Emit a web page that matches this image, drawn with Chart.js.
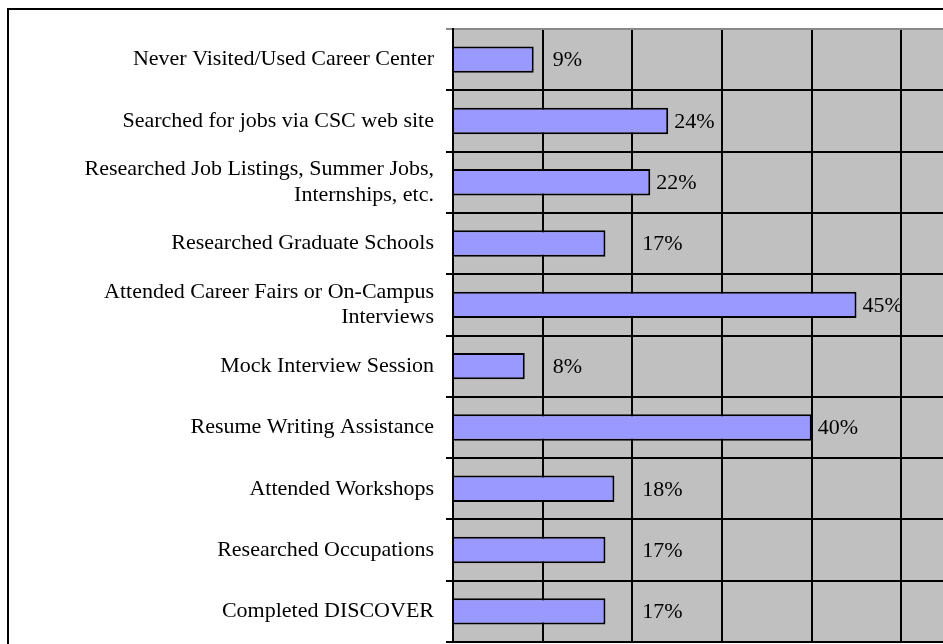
<!DOCTYPE html>
<html>
<head>
<meta charset="utf-8">
<style>
  html, body { margin: 0; padding: 0; background: #fff; overflow: hidden; }
  #wrap { position: relative; width: 943px; height: 644px; overflow: hidden; }
  canvas { position: absolute; left: 0; top: 0; }
</style>
<script src="https://cdn.jsdelivr.net/npm/chart.js@4.4.1/dist/chart.umd.min.js"></script>
</head>
<body>
<div id="wrap"><canvas id="usageChart" width="991" height="644"></canvas></div>
<script>
const categories = [
  "Never Visited/Used Career Center",
  "Searched for jobs via CSC web site",
  ["Researched Job Listings, Summer Jobs,", "Internships, etc."],
  "Researched Graduate Schools",
  ["Attended Career Fairs or On-Campus", "Interviews"],
  "Mock Interview Session",
  "Resume Writing Assistance",
  "Attended Workshops",
  "Researched Occupations",
  "Completed DISCOVER",
];
const percentages = [9, 24, 22, 17, 45, 8, 40, 18, 17, 17];
const xTicks = [0, 10, 20, 30, 40, 50, 60];

const serif = "'Liberation Serif', 'Times New Roman', serif";

// grey plot area + outer frame
const background = {
  id: "background",
  beforeDraw(chart) {
    const { ctx, chartArea } = chart;
    ctx.save();
    ctx.fillStyle = "#fff";
    ctx.fillRect(0, 0, chart.width, chart.height);
    ctx.fillStyle = "#c0c0c0";
    ctx.fillRect(chartArea.left, chartArea.top, chartArea.right - chartArea.left, chartArea.bottom - chartArea.top);
    ctx.strokeStyle = "#000";
    ctx.lineWidth = 2;
    ctx.beginPath();
    ctx.moveTo(8, chart.height + 5);
    ctx.lineTo(8, 9);
    ctx.lineTo(chart.width + 5, 9);
    ctx.stroke();
    ctx.restore();
  },
};

// value labels next to each bar, nudged past a grid line they would sit on
const valueLabels = {
  id: "valueLabels",
  afterDatasetsDraw(chart) {
    const { ctx } = chart;
    const meta = chart.getDatasetMeta(0);
    const xScale = chart.scales.x;
    const gridX = xTicks.map((v) => xScale.getPixelForValue(v));
    ctx.save();
    ctx.font = "22px " + serif;
    ctx.fillStyle = "#000";
    ctx.textAlign = "left";
    ctx.textBaseline = "middle";
    meta.data.forEach((bar, i) => {
      const text = percentages[i] + "%";
      const w = ctx.measureText(text).width;
      let x = bar.x + 6;
      const hit = gridX.find((g) => g > x - 2 && g < x + w * 0.6);
      if (hit !== undefined) x = hit + 10;
      ctx.fillText(text, x, bar.y + 1);
    });
    ctx.restore();
  },
};

const ctx = document.getElementById("usageChart");

new Chart(ctx, {
  type: "bar",
  data: {
    labels: categories,
    datasets: [
      {
        data: percentages,
        backgroundColor: "#9999ff",
        borderColor: "#000",
        borderWidth: 2,
        categoryPercentage: 1,
        barPercentage: 0.43,
      },
    ],
  },
  options: {
    indexAxis: "y",
    responsive: false,
    animation: false,
    devicePixelRatio: 1,
    layout: { padding: { top: 29, bottom: 2, left: 0, right: 0 } },
    plugins: {
      legend: { display: false },
      tooltip: { enabled: false },
    },
    scales: {
      x: {
        min: 0,
        max: 60,
        afterBuildTicks(scale) {
          scale.ticks = xTicks.map((v) => ({ value: v }));
        },
        afterFit(scale) {
          scale.height = 0;
          scale.paddingLeft = 0;
          scale.paddingRight = 0;
        },
        ticks: { display: false },
        border: { display: false },
        grid: { color: "#000", lineWidth: 2, drawTicks: false },
      },
      y: {
        afterFit(scale) {
          scale.width = 453;
          scale.paddingTop = 0;
          scale.paddingBottom = 0;
        },
        border: { display: true, color: "#000", width: 2 },
        grid: {
          color: (c) => (c.index === 0 ? "#888" : "#000"),
          lineWidth: 2,
          tickLength: 7,
        },
        ticks: {
          color: "#000",
          padding: 12,
          font: { family: serif, size: 22, lineHeight: 1.15 },
        },
      },
    },
  },
  plugins: [background, valueLabels],
});
</script>
</body>
</html>
